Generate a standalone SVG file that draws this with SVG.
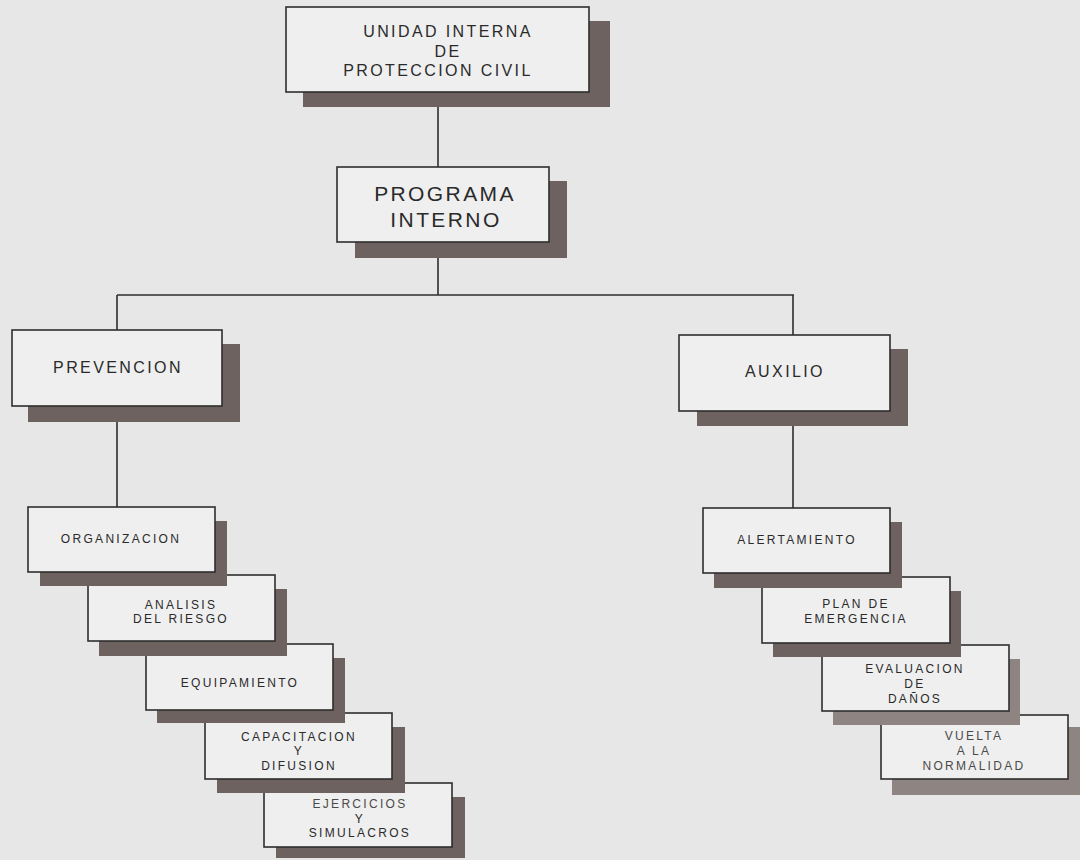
<svg xmlns="http://www.w3.org/2000/svg" width="1080" height="860" viewBox="0 0 1080 860">
<defs>
<style>
.bg{fill:#e7e7e7}
.box{fill:#efefef;stroke:#2e2e2e;stroke-width:1.6}
.sh{fill:#6d6260}
.shl{fill:#8e8481}
.conn{stroke:#2e2e2e;stroke-width:1.6;fill:none}
text{font-family:"Liberation Sans",Arial,sans-serif;fill:#2a2a2a;text-anchor:middle}
.big{font-size:21px;letter-spacing:2.4px}
.mid{font-size:16px;letter-spacing:2.4px}
.sm{font-size:12px;letter-spacing:2.3px}
.faded{fill:#4a4a4a}
</style>
</defs>
<rect class="bg" x="0" y="0" width="1080" height="860"/>
<g id="connectors">
<line class="conn" x1="438" y1="92" x2="438" y2="167"/>
<line class="conn" x1="438" y1="242" x2="438" y2="295"/>
<line class="conn" x1="117" y1="295" x2="794" y2="295"/>
<line class="conn" x1="117" y1="295" x2="117" y2="330"/>
<line class="conn" x1="793" y1="295" x2="793" y2="335"/>
<line class="conn" x1="117" y1="406" x2="117" y2="507"/>
<line class="conn" x1="793" y1="411" x2="793" y2="508"/>
</g>
<g id="n-unidad">
<rect class="sh" x="303" y="21" width="307" height="86"/>
<rect class="box" x="286" y="7" width="303" height="85"/>
<text class="mid" x="448" y="37">UNIDAD INTERNA</text>
<text class="mid" x="448" y="57">DE</text>
<text class="mid" x="438" y="76">PROTECCION CIVIL</text>
</g>
<g id="n-programa">
<rect class="sh" x="355" y="181" width="212" height="77"/>
<rect class="box" x="337" y="167" width="212" height="75"/>
<text class="big" x="445" y="201">PROGRAMA</text>
<text class="big" x="446" y="227">INTERNO</text>
</g>
<g id="n-prevencion">
<rect class="sh" x="28" y="344" width="212" height="78"/>
<rect class="box" x="12" y="330" width="210" height="76"/>
<text class="mid" x="118" y="373">PREVENCION</text>
</g>
<g id="n-auxilio">
<rect class="sh" x="697" y="349" width="211" height="77"/>
<rect class="box" x="679" y="335" width="211" height="76"/>
<text class="mid" x="785" y="377">AUXILIO</text>
</g>
<g id="n-ejercicios">
<rect class="sh" x="276" y="797" width="189" height="61"/>
<rect class="box" x="264" y="783" width="188" height="64"/>
<text class="sm faded" x="360" y="808">EJERCICIOS</text>
<text class="sm" x="360" y="823">Y</text>
<text class="sm" x="360" y="837">SIMULACROS</text>
</g>
<g id="n-capacitacion">
<rect class="sh" x="217" y="727" width="188" height="66"/>
<rect class="box" x="205" y="713" width="187" height="66"/>
<text class="sm" x="299" y="741">CAPACITACION</text>
<text class="sm" x="299" y="755">Y</text>
<text class="sm" x="299" y="770">DIFUSION</text>
</g>
<g id="n-equipamiento">
<rect class="sh" x="157" y="658" width="188" height="65"/>
<rect class="box" x="146" y="644" width="187" height="66"/>
<text class="sm" x="240" y="687">EQUIPAMIENTO</text>
</g>
<g id="n-analisis">
<rect class="sh" x="99" y="589" width="188" height="67"/>
<rect class="box" x="88" y="575" width="187" height="66"/>
<text class="sm" x="181" y="609">ANALISIS</text>
<text class="sm" x="181" y="623">DEL RIESGO</text>
</g>
<g id="n-organizacion">
<rect class="sh" x="40" y="521" width="187" height="65"/>
<rect class="box" x="28" y="507" width="187" height="65"/>
<text class="sm" x="121" y="543">ORGANIZACION</text>
</g>
<g id="n-vuelta">
<rect class="shl" x="892" y="727" width="188" height="68"/>
<rect class="box" x="881" y="715" width="187" height="64"/>
<text class="sm faded" x="974" y="740">VUELTA</text>
<text class="sm faded" x="974" y="755">A LA</text>
<text class="sm faded" x="974" y="770">NORMALIDAD</text>
</g>
<g id="n-evaluacion">
<rect class="shl" x="833" y="659" width="187" height="66"/>
<rect class="box" x="822" y="645" width="187" height="66"/>
<text class="sm" x="915" y="673">EVALUACION</text>
<text class="sm" x="915" y="688">DE</text>
<text class="sm" x="915" y="703">DAÑOS</text>
</g>
<g id="n-plan">
<rect class="sh" x="773" y="591" width="188" height="66"/>
<rect class="box" x="762" y="577" width="188" height="66"/>
<text class="sm" x="856" y="608">PLAN DE</text>
<text class="sm" x="856" y="623">EMERGENCIA</text>
</g>
<g id="n-alertamiento">
<rect class="sh" x="714" y="522" width="188" height="66"/>
<rect class="box" x="703" y="508" width="187" height="65"/>
<text class="sm" x="797" y="544">ALERTAMIENTO</text>
</g>
</svg>
